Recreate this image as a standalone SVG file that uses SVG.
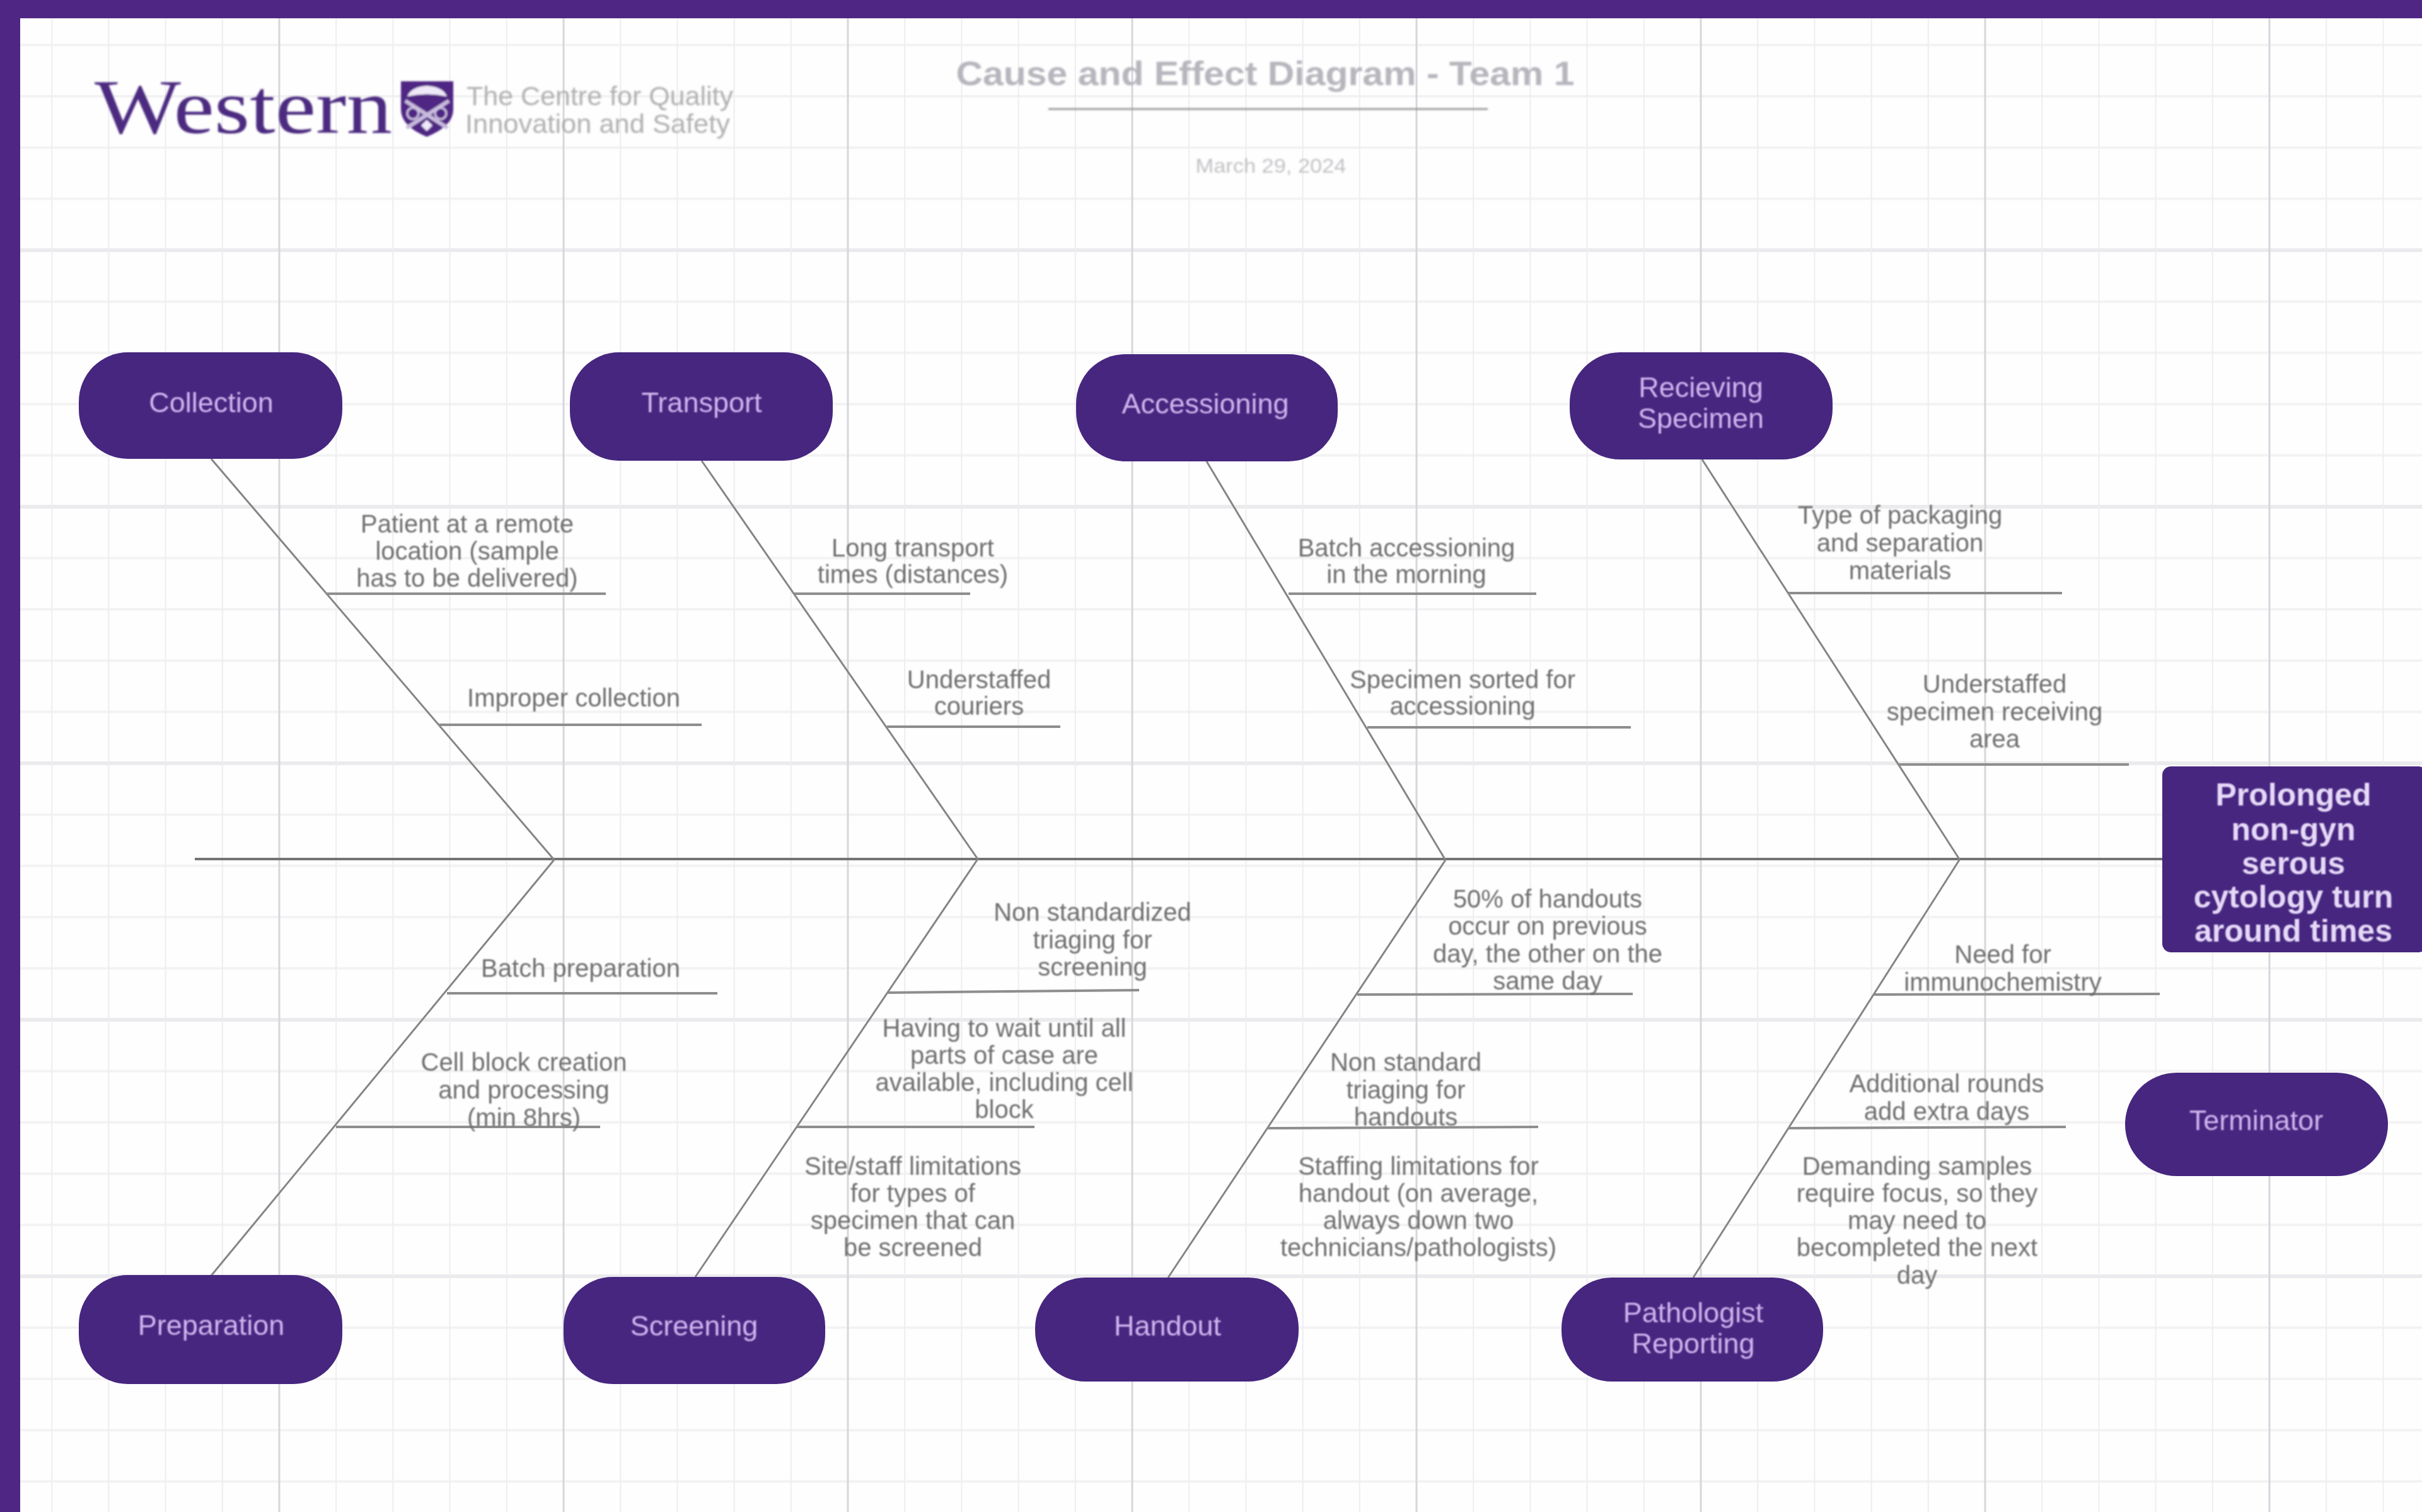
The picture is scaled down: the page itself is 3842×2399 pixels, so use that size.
<svg xmlns="http://www.w3.org/2000/svg" width="3842" height="2399" viewBox="0 0 3842 2399">
<style>
.t{font-family:"Liberation Sans",Arial,sans-serif;text-anchor:middle}
.l{font-size:40px;fill:#707070;filter:url(#lab);transform:translateY(1.5px)}
.n{font-size:45px;fill:#cfb4ee;filter:url(#lab);transform:translateY(1.5px)}
.b{font-size:50px;font-weight:bold;fill:#e6d9f8;filter:url(#lab);transform:translateY(1.5px)}
.pill{fill:#46267f}
.c line{stroke:#858585;stroke-width:3}
.c .spine{stroke:#747474;stroke-width:4}
.c .sub{stroke:#8e8e8e;stroke-width:4}
</style>
<defs>
<pattern id="grid" patternUnits="userSpaceOnUse" x="443" y="397" width="451" height="407">
<rect width="451" height="407" fill="#fefefe"/>
<path d="M0 81.4H451M0 162.8H451M0 244.2H451M0 325.6H451" fill="none" stroke="#f3f3f4" stroke-width="4"/>
<path d="M0 0H451M0 407H451" fill="none" stroke="#ebebee" stroke-width="6"/>
<path d="M90.2 0V407M180.4 0V407M270.6 0V407M360.8 0V407" fill="none" stroke="#eeeef1" stroke-width="2"/>
<path d="M0 0V407M451 0V407" fill="none" stroke="#d6d7dc" stroke-width="3"/>
</pattern>
<filter id="soft" x="-5%" y="-20%" width="110%" height="140%"><feGaussianBlur stdDeviation="1.4"/></filter>
<filter id="lab" x="-5%" y="-10%" width="110%" height="120%"><feGaussianBlur stdDeviation="0.8"/></filter>
</defs>
<rect id="page" width="3842" height="2399" fill="#fff"/>
<rect id="grid-area" x="32" y="29" width="3810" height="2370" fill="url(#grid)"/>
<path id="frame" d="M0 0H3842V29H32V2399H0Z" fill="#4f2683"/>

<g id="logo" filter="url(#soft)">
<text x="150" y="211" font-family="'Liberation Serif',serif" font-size="122" fill="#4b2a80" textLength="472" lengthAdjust="spacingAndGlyphs">Western</text>
<path d="M636 129H719V174Q719 200 677 217Q636 200 636 174Z" fill="#4f2683"/>
<path d="M646 153Q652 138 677 136Q703 138 709 153Q677 146 646 153Z" fill="#efe8f8"/>
<path d="M643 160L710 203M712 160L645 203" stroke="#c9bbdf" stroke-width="6" fill="none"/>
<circle cx="655" cy="180" r="9" fill="none" stroke="#cfc3e3" stroke-width="3"/>
<circle cx="699" cy="180" r="9" fill="none" stroke="#cfc3e3" stroke-width="3"/>
<path d="M677 190L686 199L677 208L668 199Z" fill="#efe8f8"/>
<text x="740" y="167" font-family="'Liberation Sans',sans-serif" font-size="42" fill="#b0b0b0" textLength="423" lengthAdjust="spacingAndGlyphs">The Centre for Quality</text>
<text x="738" y="211" font-family="'Liberation Sans',sans-serif" font-size="42" fill="#b0b0b0" textLength="420" lengthAdjust="spacingAndGlyphs">Innovation and Safety</text>
</g>

<g id="title" filter="url(#soft)">
<text class="t" x="2007" y="135" font-size="54" font-weight="bold" fill="#b6b6bd" textLength="981" lengthAdjust="spacingAndGlyphs">Cause and Effect Diagram - Team 1</text>
<line x1="1663" y1="173" x2="2360" y2="173" stroke="#9a9a9a" stroke-width="3"/>
<text class="t" x="2016" y="274" font-size="32" fill="#c2c2c6" textLength="239" lengthAdjust="spacingAndGlyphs">March 29, 2024</text>
</g>

<g id="connectors" class="c">
<line class="spine" x1="309" y1="1363" x2="3430" y2="1363"/>
<line x1="335" y1="728" x2="878" y2="1363"/>
<line x1="335" y1="2024" x2="880" y2="1363"/>
<line x1="1113" y1="731" x2="1551" y2="1363"/>
<line x1="1103" y1="2026" x2="1551" y2="1363"/>
<line x1="1914" y1="732" x2="2292" y2="1363"/>
<line x1="1853" y1="2027" x2="2294" y2="1363"/>
<line x1="2700" y1="729" x2="3108" y2="1363"/>
<line x1="2686" y1="2027" x2="3109" y2="1363"/>
<line class="sub" x1="517" y1="942" x2="961" y2="942"/>
<line class="sub" x1="695" y1="1150" x2="1113" y2="1150"/>
<line class="sub" x1="1260" y1="942" x2="1539" y2="942"/>
<line class="sub" x1="1407" y1="1153" x2="1682" y2="1153"/>
<line class="sub" x1="2044" y1="942" x2="2437" y2="942"/>
<line class="sub" x1="2169" y1="1154" x2="2587" y2="1154"/>
<line class="sub" x1="2837" y1="941" x2="3271" y2="941"/>
<line class="sub" x1="3012" y1="1213" x2="3377" y2="1213"/>
<line class="sub" x1="709" y1="1576" x2="1138" y2="1576"/>
<line class="sub" x1="533" y1="1788" x2="952" y2="1788"/>
<line class="sub" x1="1409" y1="1575" x2="1807" y2="1571"/>
<line class="sub" x1="1264" y1="1788" x2="1641" y2="1788"/>
<line class="sub" x1="2153" y1="1578" x2="2590" y2="1577"/>
<line class="sub" x1="2010" y1="1790" x2="2440" y2="1788"/>
<line class="sub" x1="2973" y1="1578" x2="3426" y2="1577"/>
<line class="sub" x1="2837" y1="1790" x2="3277" y2="1788"/>
</g>

<g id="node-collection"><rect class="pill" x="125" y="559" width="418" height="169" rx="78"/><text class="t n" x="335" y="652">Collection</text></g>
<g id="node-transport"><rect class="pill" x="904" y="559" width="417" height="172" rx="78"/><text class="t n" x="1113" y="652">Transport</text></g>
<g id="node-accessioning"><rect class="pill" x="1707" y="562" width="415" height="170" rx="78"/><text class="t n" x="1912" y="654">Accessioning</text></g>
<g id="node-recieving"><rect class="pill" x="2490" y="559" width="417" height="170" rx="80"/><text class="t n"><tspan x="2698" y="628">Recieving</tspan><tspan x="2698" y="677">Specimen</tspan></text></g>
<g id="node-preparation"><rect class="pill" x="125" y="2023" width="418" height="173" rx="78"/><text class="t n" x="335" y="2116">Preparation</text></g>
<g id="node-screening"><rect class="pill" x="894" y="2026" width="415" height="170" rx="78"/><text class="t n" x="1101" y="2117">Screening</text></g>
<g id="node-handout"><rect class="pill" x="1642" y="2027" width="418" height="165" rx="80"/><text class="t n" x="1852" y="2117">Handout</text></g>
<g id="node-pathologist"><rect class="pill" x="2477" y="2027" width="415" height="165" rx="80"/><text class="t n"><tspan x="2686" y="2096">Pathologist</tspan><tspan x="2686" y="2145">Reporting</tspan></text></g>
<g id="node-terminator"><rect class="pill" x="3371" y="1702" width="417" height="164" rx="82"/><text class="t n" x="3579" y="1791">Terminator</text></g>
<g id="node-effect"><rect class="pill" x="3430" y="1216" width="420" height="295" rx="14"/><text class="t b"><tspan x="3638" y="1276">Prolonged</tspan><tspan x="3638" y="1331">non-gyn</tspan><tspan x="3638" y="1385">serous</tspan><tspan x="3638" y="1438">cytology turn</tspan><tspan x="3638" y="1492">around times</tspan></text></g>

<g id="label-remote"><text class="t l"><tspan x="741" y="843">Patient at a remote</tspan><tspan x="741" y="886">location (sample</tspan><tspan x="741" y="929">has to be delivered)</tspan></text></g>
<g id="label-improper"><text class="t l" x="910" y="1119">Improper collection</text></g>
<g id="label-long-transport"><text class="t l"><tspan x="1448" y="881">Long transport</tspan><tspan x="1448" y="923">times (distances)</tspan></text></g>
<g id="label-couriers"><text class="t l"><tspan x="1553" y="1090">Understaffed</tspan><tspan x="1553" y="1132">couriers</tspan></text></g>
<g id="label-batch-acc"><text class="t l"><tspan x="2231" y="881">Batch accessioning</tspan><tspan x="2231" y="923">in the morning</tspan></text></g>
<g id="label-sorted"><text class="t l"><tspan x="2320" y="1090">Specimen sorted for</tspan><tspan x="2320" y="1132">accessioning</tspan></text></g>
<g id="label-packaging"><text class="t l"><tspan x="3014" y="829">Type of packaging</tspan><tspan x="3014" y="873">and separation</tspan><tspan x="3014" y="917">materials</tspan></text></g>
<g id="label-receiving"><text class="t l"><tspan x="3164" y="1097">Understaffed</tspan><tspan x="3164" y="1141">specimen receiving</tspan><tspan x="3164" y="1184">area</tspan></text></g>
<g id="label-batch-prep"><text class="t l" x="921" y="1548">Batch preparation</text></g>
<g id="label-cell-block"><text class="t l"><tspan x="831" y="1697">Cell block creation</tspan><tspan x="831" y="1741">and processing</tspan><tspan x="831" y="1785">(min 8hrs)</tspan></text></g>
<g id="label-triage-screen"><text class="t l"><tspan x="1733" y="1459">Non standardized</tspan><tspan x="1733" y="1503">triaging for</tspan><tspan x="1733" y="1546">screening</tspan></text></g>
<g id="label-wait"><text class="t l"><tspan x="1593" y="1643">Having to wait until all</tspan><tspan x="1593" y="1686">parts of case are</tspan><tspan x="1593" y="1729">available, including cell</tspan><tspan x="1593" y="1772">block</tspan></text></g>
<g id="label-site"><text class="t l"><tspan x="1448" y="1862">Site/staff limitations</tspan><tspan x="1448" y="1905">for types of</tspan><tspan x="1448" y="1948">specimen that can</tspan><tspan x="1448" y="1991">be screened</tspan></text></g>
<g id="label-fifty"><text class="t l"><tspan x="2455" y="1438">50% of handouts</tspan><tspan x="2455" y="1481">occur on previous</tspan><tspan x="2455" y="1525">day, the other on the</tspan><tspan x="2455" y="1568">same day</tspan></text></g>
<g id="label-triage-hand"><text class="t l"><tspan x="2230" y="1697">Non standard</tspan><tspan x="2230" y="1741">triaging for</tspan><tspan x="2230" y="1784">handouts</tspan></text></g>
<g id="label-staffing"><text class="t l"><tspan x="2250" y="1862">Staffing limitations for</tspan><tspan x="2250" y="1905">handout (on average,</tspan><tspan x="2250" y="1948">always down two</tspan><tspan x="2250" y="1991">technicians/pathologists)</tspan></text></g>
<g id="label-immuno"><text class="t l"><tspan x="3177" y="1526">Need for</tspan><tspan x="3177" y="1570">immunochemistry</tspan></text></g>
<g id="label-rounds"><text class="t l"><tspan x="3088" y="1731">Additional rounds</tspan><tspan x="3088" y="1775">add extra days</tspan></text></g>
<g id="label-demanding"><text class="t l"><tspan x="3041" y="1862">Demanding samples</tspan><tspan x="3041" y="1905">require focus, so they</tspan><tspan x="3041" y="1948">may need to</tspan><tspan x="3041" y="1991">becompleted the next</tspan><tspan x="3041" y="2035">day</tspan></text></g>
</svg>
